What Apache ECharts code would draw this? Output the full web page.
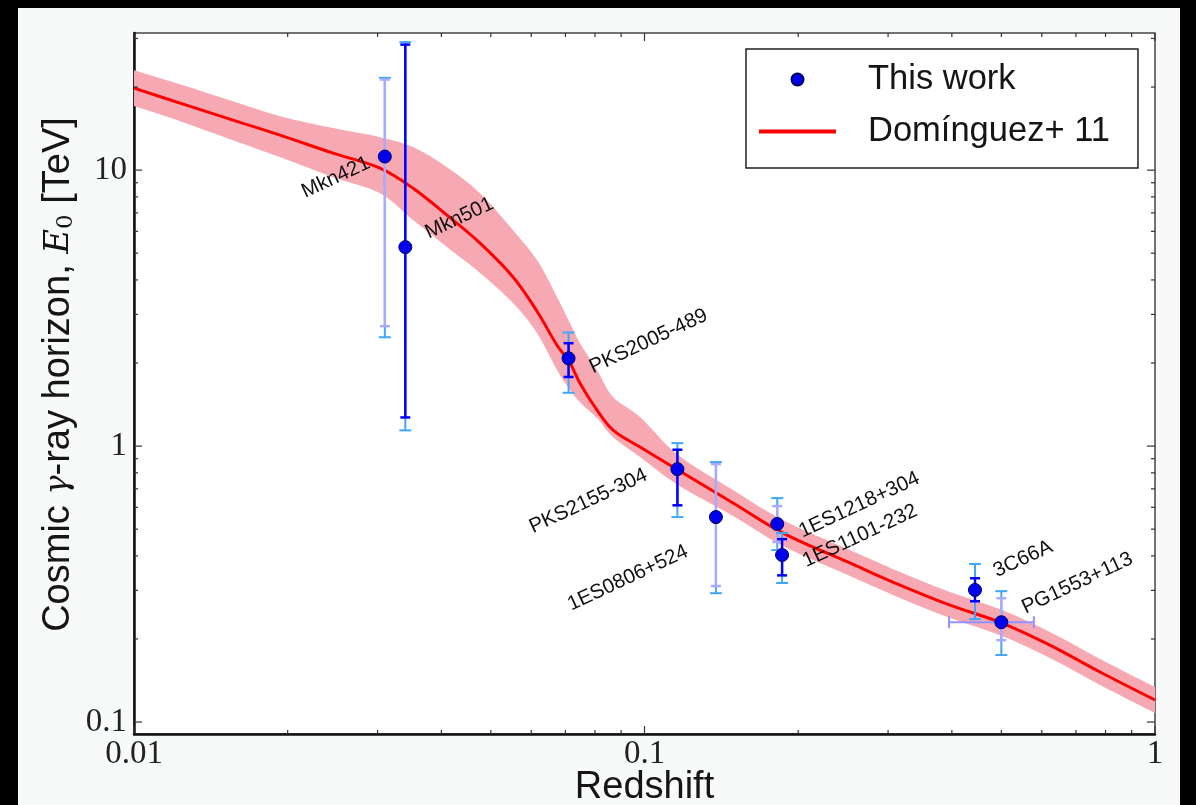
<!DOCTYPE html>
<html><head><meta charset="utf-8">
<script src="https://cdn.jsdelivr.net/npm/echarts@6/dist/echarts.min.js"></script>
<style>
html,body{margin:0;padding:0;background:#000;width:1196px;height:805px;overflow:hidden;}
#c{position:absolute;left:18px;top:8px;width:1162px;height:797px;background:#f8fafa;}
</style>
</head><body><div id="c"></div>
<script>
// ---- data ----
const sourceNames = ['Mkn421','Mkn501','PKS2005-489','PKS2155-304','1ES0806+524','1ES1218+304','1ES1101-232','3C66A','PG1553+113'];
const redshift    = [0.031, 0.034, 0.071, 0.116, 0.138, 0.182, 0.186, 0.444, 0.50];
const horizon     = [11.2, 5.26, 2.08, 0.825, 0.553, 0.522, 0.403, 0.301, 0.230];
const statLo      = [2.72, 1.27, 1.78, 0.61, 0.311, 0.449, 0.34, 0.274, 0.198];
const statHi      = [21.3, 28.5, 2.36, 0.97, 0.86, 0.606, 0.46, 0.332, 0.281];
const sysLo       = [2.48, 1.14, 1.56, 0.553, 0.293, 0.42, 0.319, 0.236, 0.175];
const sysHi       = [21.6, 29.1, 2.58, 1.025, 0.875, 0.648, 0.484, 0.374, 0.298];
const redshiftLo  = [null, null, null, null, null, null, null, null, 0.395];
const redshiftHi  = [null, null, null, null, null, null, null, null, 0.579];
const faintStat   = [true, false, false, false, true, true, false, false, true];

// Dominguez+11 model curve and uncertainty band
const modelZ  = [0.01, 0.01231, 0.01563, 0.01932, 0.02454, 0.03033, 0.03521, 0.04102, 0.04762, 0.05526, 0.06158, 0.06739, 0.07145, 0.07475, 0.08072, 0.08677, 0.09799, 0.1163, 0.1491, 0.1868, 0.2526, 0.3166, 0.3966, 0.5015, 0.6225, 0.7804, 1.0];
const modelE  = [19.82, 17.49, 15.18, 13.39, 11.52, 10.17, 8.60, 6.87, 5.44, 4.10, 3.08, 2.32, 2.00, 1.69, 1.35, 1.143, 0.992, 0.819, 0.622, 0.484, 0.377, 0.3135, 0.2653, 0.2284, 0.190, 0.1518, 0.1202];
const bandHi  = [23.03, 20.49, 17.78, 15.69, 14.20, 13.17, 12.12, 10.25, 8.25, 6.06, 4.72, 3.47, 2.79, 2.36, 1.886, 1.505, 1.274, 0.928, 0.693, 0.539, 0.420, 0.3496, 0.2958, 0.2545, 0.2119, 0.1692, 0.1339];
const bandLo  = [17.06, 15.05, 12.84, 11.15, 9.43, 8.25, 6.59, 5.26, 4.24, 3.30, 2.57, 1.886, 1.596, 1.443, 1.263, 1.078, 0.912, 0.722, 0.558, 0.434, 0.338, 0.2813, 0.2380, 0.2049, 0.1705, 0.1362, 0.1078];

// axis ticks
const xTickValues = [0.01, 0.1, 1];
const xTickLabels = ['0.01', '0.1', '1'];
const yTickValues = [0.1, 1, 10];
const yTickLabels = ['0.1', '1', '10'];
const xMinorTicks = [0.02,0.03,0.04,0.05,0.06,0.07,0.08,0.09,0.2,0.3,0.4,0.5,0.6,0.7,0.8,0.9];
const yMinorTicks = [0.2,0.3,0.4,0.5,0.6,0.7,0.8,0.9,2,3,4,5,6,7,8,9,20,30];

// ---- styles: screen offsets (px) of each source name from its point ----
const labelScreenOffsets = {
  'Mkn421':[-49,21], 'Mkn501':[54,-29], 'PKS2005-489':[80,-17], 'PKS2155-304':[-89,32],
  '1ES0806+524':[-88,61], '1ES1218+304':[82,-19], '1ES1101-232':[78,-19], '3C66A':[48,-31], 'PG1553+113':[76,-39]
};
const LABEL_ROTATE = 25;
const SYS_COLOR = '#40a6f8';
const STAT_COLOR = '#0000ff';
const STAT_FAINT = '#a9abff';

// label offsets are applied in the rotated frame, so undo the rotation
function rotatedOffset(d) {
  const a = LABEL_ROTATE * Math.PI / 180, c = Math.cos(a), s = Math.sin(a);
  return [d[0] * c - d[1] * s, d[0] * s + d[1] * c];
}

function labelFor(values, labels) {
  return function (v) {
    for (let i = 0; i < values.length; i++) {
      if (Math.abs(Math.log10(v) - Math.log10(values[i])) < 1e-6) return labels[i];
    }
    return '';
  };
}

// smooth (Catmull-Rom) path through pixel points
function smoothSegments(pts, start) {
  let d = start ? 'M' + pts[0][0] + ',' + pts[0][1] : 'L' + pts[0][0] + ',' + pts[0][1];
  for (let i = 0; i < pts.length - 1; i++) {
    const p0 = pts[Math.max(i - 1, 0)], p1 = pts[i], p2 = pts[i + 1], p3 = pts[Math.min(i + 2, pts.length - 1)];
    const c1 = [p1[0] + (p2[0] - p0[0]) / 6, p1[1] + (p2[1] - p0[1]) / 6];
    const c2 = [p2[0] - (p3[0] - p1[0]) / 6, p2[1] - (p3[1] - p1[1]) / 6];
    d += 'C' + c1[0] + ',' + c1[1] + ',' + c2[0] + ',' + c2[1] + ',' + p2[0] + ',' + p2[1];
  }
  return d;
}

const chart = echarts.init(document.getElementById('c'), null, {renderer: 'canvas'});

const option = {
  backgroundColor: '#f8fafa',
  animation: false,
  grid: {left: 116, top: 25, width: 1021, height: 701, outerBoundsMode: 'none', containLabel: false, show: true, backgroundColor: '#ffffff', borderColor: '#444', borderWidth: 1.5},
  legend: {
    left: 728, top: 41, orient: 'vertical',
    itemWidth: 77, itemHeight: 12, itemGap: 17,
    padding: [13, 28, 19, 13],
    borderColor: '#222', borderWidth: 1.5, backgroundColor: '#ffffff',
    textStyle: {fontSize: 34.5, fontFamily: 'Liberation Sans', color: '#151515', padding: [0, 0, 0, 27]},
    data: [
      {name: 'This work', icon: 'circle'},
      {name: 'Domínguez+ 11', icon: 'path://M0,0H77V4H0Z', itemStyle: {color: '#ff0000', borderWidth: 0}}
    ]
  },
  xAxis: {
    type: 'log', logBase: 10, min: 0.01, max: 1,
    axisLine: {lineStyle: {color: '#111', width: 2.5}},
    axisTick: {show: false}, splitLine: {show: false},
    axisLabel: {fontFamily: 'Liberation Serif', fontSize: 33, color: '#222', margin: 4, formatter: labelFor(xTickValues, xTickLabels)},
    name: 'Redshift', nameLocation: 'middle', nameGap: 35, nameMoveOverlap: false,
    nameTextStyle: {fontFamily: 'Liberation Sans', fontSize: 38, color: '#151515'}
  },
  yAxis: {
    type: 'log', logBase: 10, min: 0.0905, max: 31.4,
    axisLine: {lineStyle: {color: '#111', width: 2.5}},
    axisTick: {show: false}, splitLine: {show: false},
    axisLabel: {fontFamily: 'Liberation Serif', fontSize: 33, color: '#222', margin: 7, showMinLabel: false, showMaxLabel: false, formatter: labelFor(yTickValues, yTickLabels)},
    name: 'Cosmic {g|γ}-ray horizon, {e|E}{s|0} [TeV]', nameLocation: 'middle', nameGap: 56, nameMoveOverlap: false,
    nameTextStyle: {fontFamily: 'Liberation Sans', fontSize: 38, color: '#151515', padding: [0, 0, 0, 18],
      rich: {
        g: {fontFamily: 'DejaVu Serif', fontStyle: 'italic', fontSize: 32, color: '#151515'},
        e: {fontFamily: 'DejaVu Serif', fontStyle: 'italic', fontSize: 34, color: '#151515'},
        s: {fontFamily: 'DejaVu Serif', fontSize: 23, color: '#151515', padding: [15, 0, 0, 0]}
      }}
  },
  series: [
    {
      name: 'band', type: 'custom', z: 1, silent: true, clip: true,
      data: modelZ.map((z, i) => [z, bandLo[i], bandHi[i]]),
      encode: {x: 0, y: [1, 2]},
      renderItem: function (params, api) {
        if (params.dataIndex !== 0) return null;
        const up = [], lo = [];
        for (let i = 0; i < modelZ.length; i++) up.push(api.coord([modelZ[i], bandHi[i]]));
        for (let i = modelZ.length - 1; i >= 0; i--) lo.push(api.coord([modelZ[i], bandLo[i]]));
        const d = smoothSegments(up, true) + smoothSegments(lo, false) + 'Z';
        return {type: 'path', shape: {pathData: d}, style: {fill: '#f6a9b3', stroke: null}};
      }
    },
    {
      name: 'Domínguez+ 11', type: 'line', z: 2, symbol: 'none', showSymbol: false, smooth: 0.35,
      data: modelZ.map((z, i) => [z, modelE[i]]),
      lineStyle: {color: '#ff0000', width: 3},
      itemStyle: {color: '#ff0000'}
    },
    {
      name: 'errors', type: 'custom', z: 3, silent: true,
      data: redshift.map((z, i) => [z, horizon[i]]),
      renderItem: function (params, api) {
        const i = params.dataIndex;
        const z = redshift[i];
        const p = api.coord([z, horizon[i]]);
        const ch = [];
        const vbar = (lo, hi, color, w, cap) => {
          const y1 = api.coord([z, lo])[1], y2 = api.coord([z, hi])[1];
          ch.push({type: 'line', shape: {x1: p[0], y1: y1, x2: p[0], y2: y2}, style: {stroke: color, lineWidth: w}});
          ch.push({type: 'line', shape: {x1: p[0] - cap, y1: y1, x2: p[0] + cap, y2: y1}, style: {stroke: color, lineWidth: w}});
          ch.push({type: 'line', shape: {x1: p[0] - cap, y1: y2, x2: p[0] + cap, y2: y2}, style: {stroke: color, lineWidth: w}});
        };
        vbar(sysLo[i], sysHi[i], SYS_COLOR, 2, 6);
        vbar(statLo[i], statHi[i], faintStat[i] ? STAT_FAINT : STAT_COLOR, 2.5, 5);
        if (redshiftLo[i] != null) {
          const x1 = api.coord([redshiftLo[i], horizon[i]])[0], x2 = api.coord([redshiftHi[i], horizon[i]])[0];
          const col = '#8f93ff';
          ch.push({type: 'line', shape: {x1: x1, y1: p[1], x2: x2, y2: p[1]}, style: {stroke: col, lineWidth: 2}});
          ch.push({type: 'line', shape: {x1: x1, y1: p[1] - 6, x2: x1, y2: p[1] + 6}, style: {stroke: col, lineWidth: 2}});
          ch.push({type: 'line', shape: {x1: x2, y1: p[1] - 6, x2: x2, y2: p[1] + 6}, style: {stroke: col, lineWidth: 2}});
        }
        return {type: 'group', children: ch};
      }
    },
    {
      name: 'This work', type: 'scatter', z: 5, symbol: 'circle', symbolSize: 13,
      itemStyle: {color: '#0000f0', borderColor: '#000060', borderWidth: 1, opacity: 1},
      data: redshift.map((z, i) => ({
        name: sourceNames[i], value: [z, horizon[i]],
        label: {offset: rotatedOffset(labelScreenOffsets[sourceNames[i]])}
      })),
      label: {show: true, position: 'inside', formatter: '{b}', rotate: LABEL_ROTATE, fontFamily: 'Liberation Sans', fontSize: 20.5, color: '#111', textBorderWidth: 0}
    },
    {
      name: 'xticks', type: 'custom', z: 6, silent: true,
      data: xTickValues.concat(xMinorTicks).map(v => [v, 1]),
      renderItem: function (params, api) {
        const major = params.dataIndex < xTickValues.length;
        const len = major ? 8 : 4;
        const x = api.coord([api.value(0), 1])[0];
        const cs = params.coordSys;
        const b = cs.y + cs.height, t = cs.y;
        const st = {stroke: '#333', lineWidth: 1.2};
        return {type: 'group', children: [
          {type: 'line', shape: {x1: x, y1: b, x2: x, y2: b - len}, style: st},
          {type: 'line', shape: {x1: x, y1: t, x2: x, y2: t + len}, style: st}
        ]};
      }
    },
    {
      name: 'yticks', type: 'custom', z: 6, silent: true,
      data: yTickValues.concat(yMinorTicks).map(v => [0.1, v]),
      renderItem: function (params, api) {
        const major = params.dataIndex < yTickValues.length;
        const len = major ? 8 : 4;
        const y = api.coord([0.1, api.value(1)])[1];
        const cs = params.coordSys;
        const l = cs.x, r = cs.x + cs.width;
        const st = {stroke: '#333', lineWidth: 1.2};
        return {type: 'group', children: [
          {type: 'line', shape: {x1: l, y1: y, x2: l + len, y2: y}, style: st},
          {type: 'line', shape: {x1: r, y1: y, x2: r - len, y2: y}, style: st}
        ]};
      }
    }
  ]
};
chart.setOption(option);
</script>
</body></html>
